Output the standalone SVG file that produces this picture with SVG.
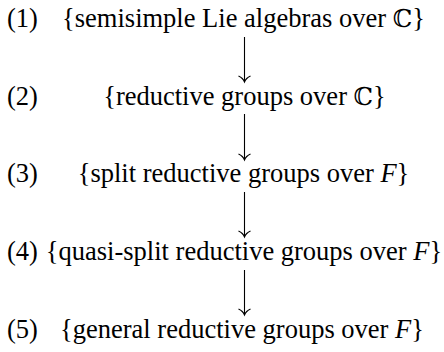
<svg xmlns="http://www.w3.org/2000/svg" width="444" height="352" viewBox="0 0 444 352">
<style>
.set{text-anchor:middle}
.it{font-style:italic}
.arr{fill:none;stroke:#000;stroke-width:1.1}
</style>
<rect width="444" height="352" fill="#fff"/>
<g font-family="Liberation Serif, Times New Roman, DejaVu Serif, serif" font-size="26.5" fill="#000">
<g id="row1"><text x="7" y="27">(1)</text><text class="set" x="243.5" y="27">{semisimple Lie algebras over <tspan font-family="DejaVu Serif, serif" font-size="24.5">ℂ</tspan>}</text></g>
<g id="row2"><text x="7" y="104.5">(2)</text><text class="set" x="244.5" y="104.5">{reductive groups over <tspan font-family="DejaVu Serif, serif" font-size="24.5">ℂ</tspan>}</text></g>
<g id="row3"><text x="7" y="182">(3)</text><text class="set" x="243.5" y="182">{split reductive groups over <tspan class="it">F</tspan>}</text></g>
<g id="row4"><text x="7" y="260">(4)</text><text class="set" x="244" y="260">{quasi-split reductive groups over <tspan class="it">F</tspan>}</text></g>
<g id="row5"><text x="7" y="338">(5)</text><text class="set" x="242" y="338">{general reductive groups over <tspan class="it">F</tspan>}</text></g>
</g>
<g id="connectors">
<path class="arr" d="M244.5,37V82M238.5,76Q243,78 244.5,82Q246,78 250.5,76"/>
<path class="arr" d="M244.5,114V160M238.5,154Q243,156 244.5,160Q246,156 250.5,154"/>
<path class="arr" d="M244.5,192V237M238.5,231Q243,233 244.5,237Q246,233 250.5,231"/>
<path class="arr" d="M244.5,270V315M238.5,309Q243,311 244.5,315Q246,311 250.5,309"/>
</g>
</svg>
